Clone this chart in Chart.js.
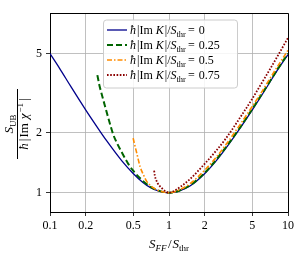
<!DOCTYPE html>
<html>
<head>
<meta charset="utf-8">
<script src="https://cdn.jsdelivr.net/npm/chart.js@4.4.1/dist/chart.umd.min.js"></script>
<style>
  html, body { margin: 0; padding: 0; background: #fff; }
  #wrap { width: 298px; height: 253px; position: relative; }
</style>
</head>
<body>
<div id="wrap"><canvas id="chart"></canvas></div>
<script>
// values
const xTicks = [0.1, 0.2, 0.5, 1, 2, 5, 10];
const yTicks = [1, 2, 5];
const kLabels = ['0', '0.25', '0.5', '0.75'];

const xK0 = [0.1, 0.12, 0.15, 0.2, 0.25, 0.3, 0.4, 0.5, 0.6, 0.7, 0.8, 0.9, 1, 1.2, 1.5, 2, 2.5, 3, 4, 5, 6, 7, 8, 10];
const yK0 = [5.0, 4.23, 3.41, 2.6, 2.13, 1.82, 1.45, 1.25, 1.13, 1.06, 1.025, 1.006, 1.0, 1.017, 1.08, 1.25, 1.45, 1.67, 2.13, 2.6, 3.08, 3.57, 4.06, 4.95];

const xK025 = [0.25, 0.26, 0.27, 0.29, 0.315, 0.34, 0.37, 0.4, 0.45, 0.5, 0.6, 0.7, 0.8, 0.9, 1, 1.2, 1.5, 2, 2.5, 3, 4, 5, 6, 7, 8, 10];
const yK025 = [3.9, 3.47, 3.18, 2.72, 2.28, 1.96, 1.75, 1.6, 1.41, 1.29, 1.15, 1.07, 1.03, 1.007, 1.0, 1.02, 1.09, 1.26, 1.47, 1.69, 2.15, 2.63, 3.12, 3.61, 4.1, 5.0];

const xK05 = [0.5, 0.51, 0.52, 0.536, 0.55, 0.572, 0.61, 0.65, 0.72, 0.8, 0.9, 1, 1.2, 1.5, 2, 2.5, 3, 4, 5, 6, 7, 8, 10];
const yK05 = [1.88, 1.78, 1.7, 1.58, 1.48, 1.35, 1.23, 1.14, 1.07, 1.03, 1.008, 1.0, 1.03, 1.11, 1.3, 1.51, 1.74, 2.22, 2.71, 3.2, 3.72, 4.23, 5.2];

const xK075 = [0.75, 0.76, 0.78, 0.8, 0.83, 0.87, 0.93, 1, 1.1, 1.24, 1.5, 2, 2.5, 3, 4, 5, 6, 7, 8, 10];
const yK075 = [1.29, 1.22, 1.16, 1.12, 1.085, 1.055, 1.02, 1.0, 1.02, 1.068, 1.17, 1.4, 1.63, 1.87, 2.41, 2.96, 3.55, 4.14, 4.75, 6.0];

const SERIF = '"Liberation Serif", "DejaVu Serif", serif';
const toPoints = (xs, ys) => xs.map((x, i) => ({ x: x, y: ys[i] }));

const series = [
    { label: kLabels[0], pts: toPoints(xK0, yK0), color: '#00008b', width: 1.3, dash: [] },
    { label: kLabels[1], pts: toPoints(xK025, yK025), color: '#006400', width: 2, dash: [6, 3] },
    { label: kLabels[2], pts: toPoints(xK05, yK05), color: '#ff8c00', width: 1.6, dash: [5, 2, 1.5, 2] },
    { label: kLabels[3], pts: toPoints(xK075, yK075), color: '#8b0000', width: 1.8, dash: [1.6, 1.6] }
];

// draw a row of text pieces (font, offset, spacing) one after another
function drawRich(ctx, x, y, segs) {
    let w = 0;
    segs.forEach(s => { ctx.font = s.f; w += ctx.measureText(s.t).width + (s.g || 0); });
    let cx = x - w / 2;
    ctx.textAlign = 'left';
    ctx.textBaseline = 'alphabetic';
    segs.forEach(s => {
        ctx.font = s.f;
        ctx.fillText(s.t, cx, y + (s.dy || 0));
        cx += ctx.measureText(s.t).width + (s.g || 0);
    });
    return w;
}

const it = (n) => 'italic ' + n + 'px ' + SERIF;
const rm = (n) => n + 'px ' + SERIF;

const extras = {
    id: 'extras',
    afterDraw(chart) {
        const ctx = chart.ctx;
        const a = chart.chartArea;
        ctx.save();
        // frame on top and right
        ctx.strokeStyle = '#000';
        ctx.lineWidth = 1;
        ctx.beginPath();
        ctx.moveTo(a.left, a.top + 0.5);
        ctx.lineTo(a.right + 0.5, a.top + 0.5);
        ctx.lineTo(a.right + 0.5, a.bottom);
        ctx.stroke();

        ctx.fillStyle = '#000';
        // x axis title
        drawRich(ctx, (a.left + a.right) / 2, 248, [
            { t: 'S', f: it(13) }, { t: 'FF', f: it(9), dy: 2.5, g: 1.5 },
            { t: '/', f: rm(13), g: 1 },
            { t: 'S', f: it(13) }, { t: 'thr', f: rm(9), dy: 2.5 }
        ]);

        // y axis title as a fraction, rotated
        ctx.save();
        ctx.translate(17.5, 124);
        ctx.rotate(-Math.PI / 2);
        drawRich(ctx, 0, 10.5, [
            { t: 'ħ', f: it(13), g: 2 },
            { t: '|', f: rm(13), g: 1 },
            { t: 'Im', f: rm(13), g: 4 },
            { t: 'χ', f: it(13), g: 1 },
            { t: '−1', f: rm(9), dy: -5, g: 2 },
            { t: '|', f: rm(13) }
        ]);
        drawRich(ctx, 0, -4.5, [
            { t: 'S', f: it(13) }, { t: 'UB', f: rm(9), dy: 2.5 }
        ]);
        ctx.fillRect(-35, -0.5, 70, 1);
        ctx.restore();

        // legend
        const bx = 103, by = 19.5, bw = 134, bh = 68;
        ctx.fillStyle = 'rgba(255,255,255,0.85)';
        ctx.strokeStyle = '#cccccc';
        ctx.lineWidth = 1;
        ctx.beginPath();
        ctx.roundRect(bx + 0.5, by + 0.5, bw, bh, 3);
        ctx.fill();
        ctx.stroke();
        series.forEach((s, i) => {
            const cy = 30 + i * 15;
            ctx.strokeStyle = s.color;
            ctx.lineWidth = s.width;
            ctx.setLineDash(s.dash);
            ctx.beginPath();
            ctx.moveTo(107, cy);
            ctx.lineTo(127, cy);
            ctx.stroke();
            ctx.setLineDash([]);
            ctx.fillStyle = '#000';
            const segs = [
                { t: 'ħ', f: it(12), g: 1 },
                { t: '|Im ', f: rm(12) },
                { t: 'K', f: it(12), g: 1 },
                { t: '|/', f: rm(12) },
                { t: 'S', f: it(12) },
                { t: 'thr', f: rm(8.5), dy: 2.5, g: 2 },
                { t: '= ', f: rm(12), g: 1 },
                { t: s.label, f: rm(12) }
            ];
            let w = 0;
            segs.forEach(sg => { ctx.font = sg.f; w += ctx.measureText(sg.t).width + (sg.g || 0); });
            drawRich(ctx, 130 + w / 2, cy + 4, segs);
        });
        ctx.restore();
    }
};

const ctx = document.getElementById('chart');
new Chart(ctx, {
    type: 'line',
    data: {
        datasets: series.map((s, i) => ({
            label: s.label,
            data: s.pts,
            borderColor: s.color,
            borderWidth: s.width,
            borderDash: s.dash,
            pointRadius: 0,
            fill: false,
            cubicInterpolationMode: 'monotone',
            order: series.length - i
        }))
    },
    options: {
        responsive: true,
        maintainAspectRatio: false,
        animation: false,
        devicePixelRatio: 1,
        layout: { padding: { left: 0, right: 10, top: 13, bottom: 0 } },
        plugins: { legend: { display: false }, tooltip: { enabled: false } },
        scales: {
            x: {
                type: 'logarithmic',
                min: 0.1,
                max: 10,
                afterBuildTicks: (scale) => { scale.ticks = xTicks.map(v => ({ value: v })); },
                afterFit: (scale) => { scale.height = 41; },
                ticks: {
                    autoSkip: false,
                    maxRotation: 0,
                    padding: 3,
                    color: '#000',
                    font: { family: SERIF, size: 12 },
                    callback: (v) => String(v)
                },
                grid: { color: '#b0b0b0', lineWidth: 0.8, tickColor: '#000', tickLength: 4 },
                border: { color: '#000', width: 1 }
            },
            y: {
                type: 'logarithmic',
                min: 0.8,
                max: 8,
                afterBuildTicks: (scale) => { scale.ticks = yTicks.map(v => ({ value: v })); },
                afterFit: (scale) => { scale.width = 50; },
                ticks: {
                    autoSkip: false,
                    padding: 4,
                    color: '#000',
                    font: { family: SERIF, size: 12 },
                    callback: (v) => String(v)
                },
                grid: { color: '#b0b0b0', lineWidth: 0.8, tickColor: '#000', tickLength: 4 },
                border: { color: '#000', width: 1 }
            }
        }
    },
    plugins: [extras]
});
</script>
</body>
</html>
